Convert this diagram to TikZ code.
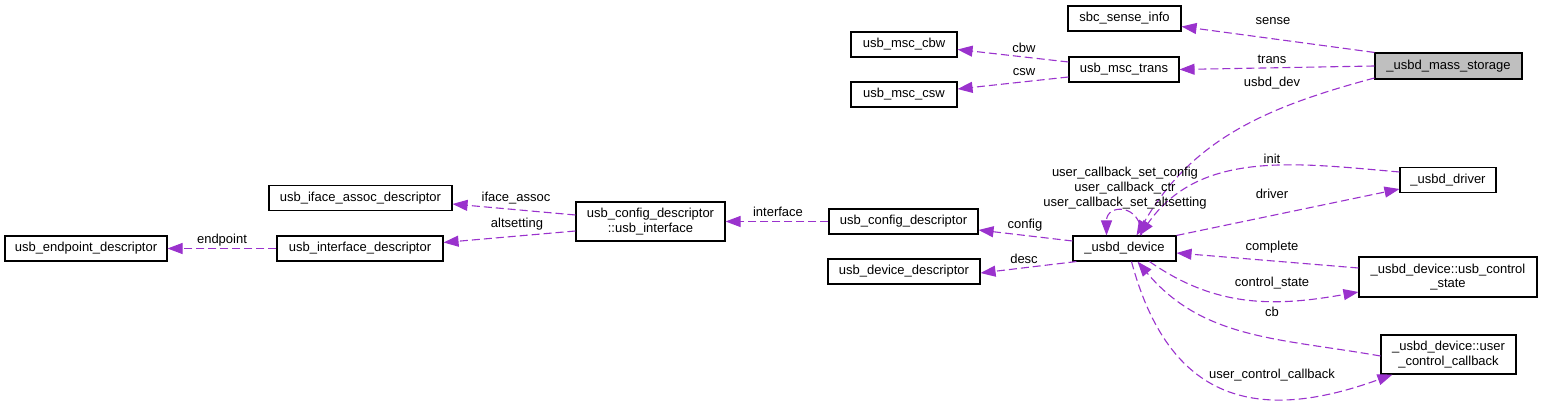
\documentclass[tikz,border=0pt]{standalone}
\usepackage{fontspec}
\setmainfont{Liberation Sans}
\usepackage{xcolor}
\usepackage{tikz}
\usetikzlibrary{arrows.meta}
\definecolor{relpurple}{HTML}{9A32CD}
\tikzset{
  box/.style={draw,line width=1.1pt,inner sep=0pt,minimum height=25pt,align=center,font=\fontsize{13}{14.5}\selectfont},
  rel/.style={draw=relpurple,line width=1.1pt,dash pattern=on 8pt off 4pt,-{Triangle[length=15pt,width=11pt]}},
  lbl/.style={inner sep=0pt,align=center,font=\fontsize{13}{15}\selectfont}
}
\begin{document}
\begin{tikzpicture}[x=1pt,y=1pt]
    \useasboundingbox (0,0) rectangle (1543,407);
    % structs
    \node[box,minimum width=147pt,minimum height=26pt,fill=black!25] (mass) at (1448.5,341) {\_usbd\_mass\_storage};
    \node[box,minimum width=113pt] (sense) at (1124.5,388.5) {sbc\_sense\_info};
    \node[box,minimum width=110pt] (trans) at (1124,337.5) {usb\_msc\_trans};
    \node[box,minimum width=106pt] (cbw) at (904,362.5) {usb\_msc\_cbw};
    \node[box,minimum width=106pt] (csw) at (904,312.5) {usb\_msc\_csw};
    \node[box,minimum width=183pt] (iface) at (360.5,209) {usb\_iface\_assoc\_descriptor};
    \node[box,minimum width=149pt,minimum height=39pt] (uif) at (650.5,185.5) {usb\_config\_descriptor\\::usb\_interface};
    \node[box,minimum width=149pt] (cfg) at (903.5,185.5) {usb\_config\_descriptor};
    \node[box,minimum width=103pt] (dev) at (1124.5,158.5) {\_usbd\_device};
    \node[box,minimum width=96pt] (drv) at (1448,227) {\_usbd\_driver};
    \node[box,minimum width=162pt] (ep) at (86,158.5) {usb\_endpoint\_descriptor};
    \node[box,minimum width=166pt] (ifd) at (360,158.5) {usb\_interface\_descriptor};
    \node[box,minimum width=152pt] (ddesc) at (904,135.5) {usb\_device\_descriptor};
    \node[box,minimum width=178pt,minimum height=40pt] (cstate) at (1448,130) {\_usbd\_device::usb\_control\\\_state};
    \node[box,minimum width=135pt,minimum height=39pt] (ucb) at (1448.5,52.5) {\_usbd\_device::user\\\_control\_callback};
    % members
    \draw[rel] (mass.north west) -- ([yshift=-8]sense.east);
    \draw[rel] (mass.west) -- (trans.east);
    \draw[rel] ([yshift=-12]mass.west) to[out=195,in=60] ([xshift=12]dev.north);
    \draw[rel] ([yshift=7.5]trans.west) -- ([yshift=-5]cbw.east);
    \draw[rel] ([yshift=-7.5]trans.west) -- ([yshift=5.5]csw.east);
    \draw[rel] ([yshift=6.5]uif.west) -- ([yshift=-6]iface.east);
    \draw[rel] ([yshift=-9.5]uif.west) -- ([yshift=6]ifd.east);
    \draw[rel] (ifd.west) -- (ep.east);
    \draw[rel] (cfg.west) -- (uif.east);
    \draw[rel] ([yshift=7.5]dev.west) -- ([yshift=-8.5]cfg.east);
    \draw[rel] ([xshift=4]dev.south west) -- ([yshift=-1.5]ddesc.east);
    \draw[rel] ([xshift=17]dev.north) .. controls +(0,32) and +(0,32) .. ([xshift=-18]dev.north);
    \draw[rel] ([yshift=8]drv.west) to[out=175,in=55] ([xshift=15]dev.north);
    \draw[rel] (dev.north east) -- ([yshift=-9]drv.west);
    \draw[rel] ([yshift=9]cstate.west) -- ([yshift=-4.5]dev.east);
    \draw[rel] ([xshift=25]dev.south) to[out=-35,in=190] ([yshift=-15]cstate.west);
    \draw[rel] ([yshift=-1.5]ucb.west) to[out=170,in=-50] ([xshift=13]dev.south);
    \draw[rel] ([xshift=7]dev.south) to[out=-75,in=200,looseness=1.3] ([xshift=12]ucb.south west);
    % labels
    \node[lbl] (l-sense) at (1273,386) {sense};
    \node[lbl] (l-trans) at (1272,348) {trans};
    \node[lbl] (l-usbddev) at (1272,324) {usbd\_dev};
    \node[lbl] (l-cbw) at (1024,359) {cbw};
    \node[lbl] (l-csw) at (1024,335) {csw};
    \node[lbl] (l-iface) at (516,209) {iface\_assoc};
    \node[lbl] (l-alt) at (517,183) {altsetting};
    \node[lbl] (l-ep) at (222,167) {endpoint};
    \node[lbl] (l-intf) at (778,195) {interface};
    \node[lbl] (l-config) at (1025,182) {config};
    \node[lbl] (l-desc) at (1024,148) {desc};
    \node[lbl] (l-loop) at (1125,219) {user\_callback\_set\_config\\user\_callback\_ctr\\user\_callback\_set\_altsetting};
    \node[lbl] (l-init) at (1272,248) {init};
    \node[lbl] (l-driver) at (1272,213) {driver};
    \node[lbl] (l-complete) at (1272,160) {complete};
    \node[lbl] (l-cstate) at (1272,124) {control\_state};
    \node[lbl] (l-cb) at (1272,95) {cb};
    \node[lbl] (l-ucb) at (1272,32) {user\_control\_callback};
\end{tikzpicture}
\end{document}
